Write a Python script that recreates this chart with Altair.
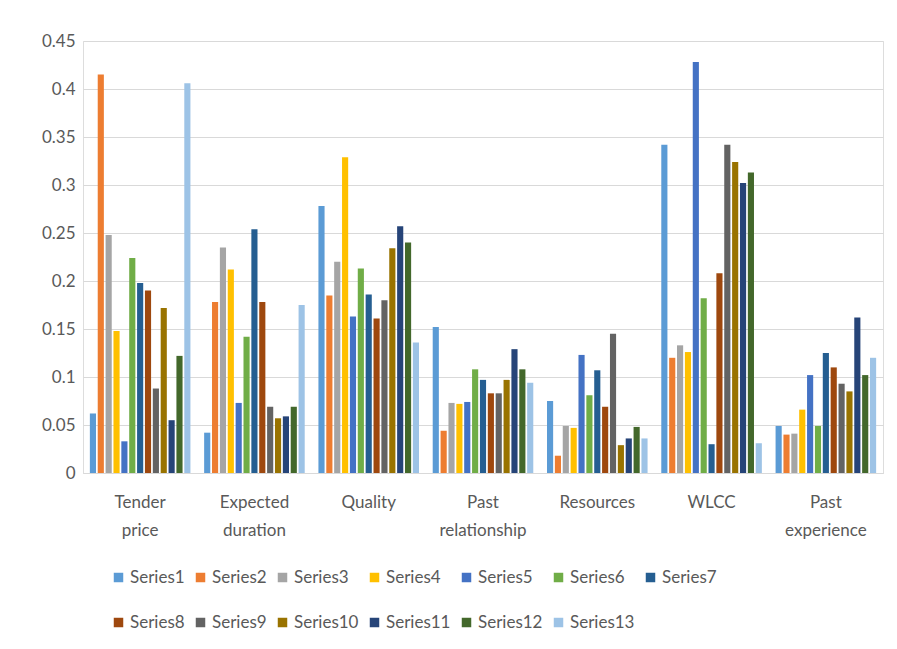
import altair as alt
import pandas as pd

categories = ["Tender price", "Expected duration", "Quality", "Past relationship",
              "Resources", "WLCC", "Past experience"]
series_names = [f"Series{i}" for i in range(1, 14)]

s1 = [0.062, 0.042, 0.278, 0.152, 0.075, 0.342, 0.049]
s2 = [0.415, 0.178, 0.185, 0.044, 0.018, 0.120, 0.040]
s3 = [0.248, 0.235, 0.220, 0.073, 0.049, 0.133, 0.041]
s4 = [0.148, 0.212, 0.329, 0.072, 0.047, 0.126, 0.066]
s5 = [0.033, 0.073, 0.163, 0.074, 0.123, 0.428, 0.102]
s6 = [0.224, 0.142, 0.213, 0.108, 0.081, 0.182, 0.049]
s7 = [0.198, 0.254, 0.186, 0.097, 0.107, 0.030, 0.125]
s8 = [0.190, 0.178, 0.161, 0.083, 0.069, 0.208, 0.110]
s9 = [0.088, 0.069, 0.180, 0.083, 0.145, 0.342, 0.093]
s10 = [0.172, 0.057, 0.234, 0.097, 0.029, 0.324, 0.085]
s11 = [0.055, 0.059, 0.257, 0.129, 0.036, 0.302, 0.162]
s12 = [0.122, 0.069, 0.240, 0.108, 0.048, 0.313, 0.102]
s13 = [0.406, 0.175, 0.136, 0.094, 0.036, 0.031, 0.120]

colors = ["#5B9BD5", "#ED7D31", "#A5A5A5", "#FFC000", "#4472C4", "#70AD47",
          "#255E91", "#9E480E", "#636363", "#997300", "#264478", "#43682B", "#9DC3E6"]

all_series = [s1, s2, s3, s4, s5, s6, s7, s8, s9, s10, s11, s12, s13]
rows = []
for name, vals in zip(series_names, all_series):
    for cat, v in zip(categories, vals):
        rows.append({"category": cat, "series": name, "value": v})
df = pd.DataFrame(rows)

FONT = "Lato"
GRAY = "#595959"

chart = alt.Chart(df).mark_bar().encode(
    x=alt.X("category:N", sort=categories,
            scale=alt.Scale(paddingInner=0.12, paddingOuter=0.06),
            axis=alt.Axis(title=None, labelAngle=0, ticks=False, domain=True, grid=False,
                          domainColor="#D9D9D9", labelFontSize=17, labelColor=GRAY,
                          labelFont=FONT, labelPadding=21, labelLineHeight=28,
                          labelExpr="split(datum.label, ' ')")),
    xOffset=alt.XOffset("series:N", sort=series_names,
                        scale=alt.Scale(paddingInner=0.22)),
    y=alt.Y("value:Q", scale=alt.Scale(domain=[0, 0.45], nice=False),
            axis=alt.Axis(title=None, values=[i * 0.05 for i in range(10)],
                          labelExpr="format(datum.value, '.2~f')",
                          ticks=False, domain=False, gridColor="#D9D9D9",
                          labelFontSize=17, labelColor=GRAY, labelFont=FONT,
                          labelPadding=8)),
    color=alt.Color("series:N", sort=series_names,
                    scale=alt.Scale(domain=series_names, range=colors),
                    legend=alt.Legend(title=None, orient="none", legendX=27, legendY=528,
                                      direction="horizontal", columns=7, gridAlign="none",
                                      symbolType="square", symbolSize=90,
                                      symbolStrokeWidth=0, labelFontSize=17,
                                      labelColor=GRAY, labelFont=FONT,
                                      columnPadding=7, rowPadding=27, labelOffset=3)),
).properties(
    width=800, height=432,
    padding={"left": 75, "top": 33, "right": 4, "bottom": 160},
    autosize=alt.AutoSizeParams(type="none"),
).configure_view(
    stroke=None, strokeWidth=0
).configure_axisBand(grid=False).configure_axisX(grid=False).configure(background="white")

chart.save("out.html", embed_options={"renderer": "svg", "actions": False})
